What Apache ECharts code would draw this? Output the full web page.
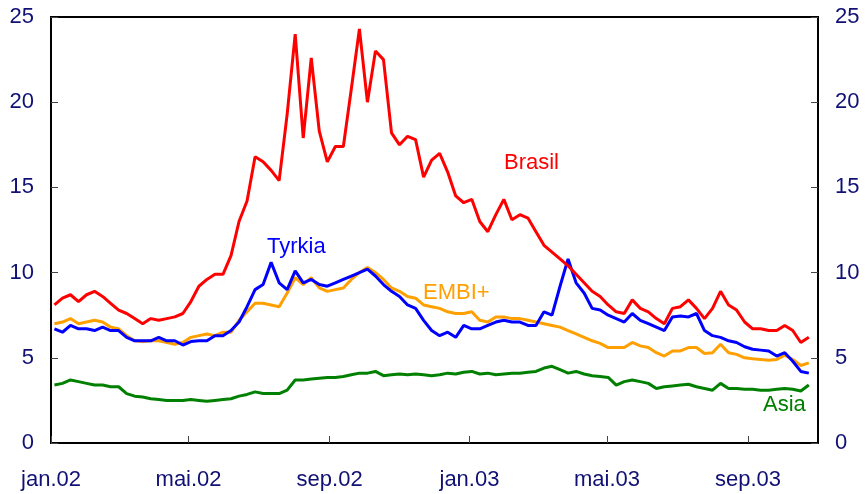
<!DOCTYPE html>
<html>
<head>
<meta charset="utf-8">
<script src="https://cdn.jsdelivr.net/npm/echarts@6/dist/echarts.min.js"></script>
<style>
  html, body { margin: 0; padding: 0; background: #fff; }
  #chart { width: 865px; height: 494px; }
</style>
</head>
<body>
<div id="chart"></div>
<script>
// weekly observations, first one friday 4 jan 2002
const brasil = [
  8.1, 8.5, 8.7, 8.3, 8.7, 8.9, 8.6, 8.2, 7.8, 7.6,
  7.3, 7.0, 7.3, 7.2, 7.3, 7.4, 7.6, 8.3, 9.2, 9.6,
  9.9, 9.9, 11.0, 13.0, 14.2, 16.8, 16.5, 16.0, 15.4, 19.3,
  24.0, 17.9, 22.6, 18.3, 16.5, 17.4, 17.4, 20.8, 24.3, 20.0,
  23.0, 22.5, 18.2, 17.5, 18.0, 17.8, 15.6, 16.6, 17.0, 15.9,
  14.5, 14.1, 14.3, 13.0, 12.4, 13.4, 14.3, 13.1, 13.4, 13.2,
  12.4, 11.6, 11.2, 10.8, 10.4, 9.9, 9.4, 8.9, 8.6, 8.1,
  7.7, 7.6, 8.4, 7.9, 7.7, 7.3, 7.0, 7.9, 8.0, 8.4,
  7.9, 7.3, 7.9, 8.9, 8.1, 7.8, 7.1, 6.7, 6.7, 6.6,
  6.6, 6.9, 6.6, 5.9, 6.2
];
const tyrkia = [
  6.7, 6.5, 6.9, 6.7, 6.7, 6.6, 6.8, 6.6, 6.6, 6.2,
  6.0, 6.0, 6.0, 6.2, 6.0, 6.0, 5.75, 5.95, 6.0, 6.0,
  6.3, 6.3, 6.6, 7.1, 8.0, 9.0, 9.3, 10.6, 9.4, 9.0,
  10.1, 9.4, 9.6, 9.3, 9.2, 9.4, 9.6, 9.8, 10.0, 10.2,
  9.8, 9.3, 8.9, 8.6, 8.1, 7.9, 7.2, 6.6, 6.3, 6.5,
  6.2, 6.9, 6.7, 6.7, 6.9, 7.1, 7.2, 7.1, 7.1, 6.9,
  6.9, 7.7, 7.5, 9.2, 10.8, 9.4, 8.8, 7.9, 7.8, 7.5,
  7.3, 7.1, 7.6, 7.2, 7.0, 6.8, 6.6, 7.4, 7.45, 7.4,
  7.6, 6.6, 6.3, 6.2, 6.0, 5.9, 5.65, 5.5, 5.45, 5.4,
  5.1, 5.3, 4.8, 4.2, 4.1
];
const embi = [
  7.0, 7.1, 7.3, 7.0, 7.1, 7.2, 7.1, 6.8, 6.7, 6.3,
  6.0, 5.95, 6.0, 6.0, 5.9, 5.8, 5.9, 6.2, 6.3, 6.4,
  6.3, 6.5, 6.5, 7.2, 7.7, 8.2, 8.2, 8.1, 8.0, 8.8,
  9.7, 9.3, 9.7, 9.1, 8.9, 9.0, 9.1, 9.6, 10.0, 10.3,
  10.0, 9.6, 9.1, 8.9, 8.6, 8.5, 8.1, 8.0, 7.9, 7.7,
  7.6, 7.6, 7.7, 7.2, 7.1, 7.4, 7.4, 7.3, 7.3, 7.2,
  7.1, 7.0, 6.9, 6.8, 6.6, 6.4, 6.2, 6.0, 5.85, 5.6,
  5.6, 5.6, 5.9, 5.7, 5.6, 5.3, 5.1, 5.4, 5.4, 5.6,
  5.6, 5.25, 5.3, 5.8, 5.3, 5.2, 5.0, 4.95, 4.9, 4.85,
  4.9, 5.15, 4.9, 4.55, 4.7
];
const asia = [
  3.4, 3.5, 3.7, 3.6, 3.5, 3.4, 3.4, 3.3, 3.3, 2.9,
  2.75, 2.7, 2.6, 2.55, 2.5, 2.5, 2.5, 2.55, 2.5, 2.45,
  2.5, 2.55, 2.6, 2.75, 2.85, 3.0, 2.9, 2.9, 2.9, 3.1,
  3.7, 3.7, 3.75, 3.8, 3.85, 3.85, 3.9, 4.0, 4.1, 4.1,
  4.2, 3.95, 4.0, 4.05, 4.0, 4.05, 4.0, 3.95, 4.0, 4.1,
  4.05, 4.15, 4.2, 4.05, 4.1, 4.0, 4.05, 4.1, 4.1, 4.15,
  4.2, 4.4, 4.5, 4.3, 4.1, 4.2, 4.05, 3.95, 3.9, 3.85,
  3.4, 3.6, 3.7, 3.6, 3.5, 3.2, 3.3, 3.35, 3.4, 3.45,
  3.3, 3.2, 3.1, 3.5, 3.2, 3.2, 3.15, 3.15, 3.1, 3.1,
  3.15, 3.2, 3.15, 3.05, 3.4
];
const dates = brasil.map((v, i) => new Date(2002, 0, 4 + 7 * i).getTime());

// x axis ticks every fourth month
const tickMonths = [[2002, 0], [2002, 4], [2002, 8], [2003, 0], [2003, 4], [2003, 8]];
const tickValues = tickMonths.map(m => new Date(m[0], m[1], 1).getTime());
const monthNames = ['jan', 'feb', 'mar', 'apr', 'mai', 'jun', 'jul', 'aug', 'sep', 'okt', 'nov', 'des'];

const textColor = '#101075';
const fontFamily = '"Liberation Sans", Arial, sans-serif';

function pairs(values) {
    return values.map((v, i) => [dates[i], v]);
}

function yAxis(pos) {
    return {
        type: 'value',
        position: pos,
        min: 0,
        max: 25,
        interval: 5,
        axisLine: { show: true, lineStyle: { color: '#000', width: 2 } },
        axisTick: { show: true, inside: true, length: 7, lineStyle: { color: '#444', width: 1 } },
        axisLabel: { color: textColor, fontSize: 22, fontFamily: fontFamily, margin: 17 },
        splitLine: { show: false }
    };
}

function lineSeries(name, values, color, yIndex) {
    return {
        name: name,
        type: 'line',
        yAxisIndex: yIndex,
        data: pairs(values),
        showSymbol: false,
        smooth: false,
        lineStyle: { color: color, width: 3 },
        itemStyle: { color: color },
        animation: false
    };
}

function label(text, color, x, y) {
    return {
        type: 'text',
        left: x,
        top: y,
        style: { text: text, fill: color, fontSize: 22, fontFamily: fontFamily }
    };
}

let chart = echarts.init(document.getElementById('chart'), null, { renderer: 'canvas' });

chart.setOption({
    animation: false,
    backgroundColor: '#fff',
    grid: {
        left: 51, right: 47, top: 17, bottom: 51,
        show: true, borderColor: '#000', borderWidth: 2
    },
    xAxis: {
        type: 'value',
        min: new Date(2002, 0, 1).getTime(),
        max: new Date(2003, 10, 1).getTime(),
        axisLine: { show: true, lineStyle: { color: '#000', width: 2 } },
        axisTick: { show: true, inside: true, length: 7, customValues: tickValues, lineStyle: { color: '#444', width: 1 } },
        axisLabel: {
            customValues: tickValues,
            color: textColor,
            fontSize: 22,
            fontFamily: fontFamily,
            margin: 26,
            formatter: function (val) {
                let d = new Date(val);
                return monthNames[d.getMonth()] + '.' + String(d.getFullYear()).slice(2);
            }
        },
        splitLine: { show: false }
    },
    yAxis: [yAxis('left'), yAxis('right')],
    series: [
        lineSeries('Asia', asia, '#008000', 0),
        lineSeries('EMBI+', embi, '#ffa000', 0),
        lineSeries('Tyrkia', tyrkia, '#0000ff', 0),
        lineSeries('Brasil', brasil, '#ff0000', 0)
    ],
    graphic: [
        label('Brasil', '#ff0000', 504, 152),
        label('Tyrkia', '#0000ff', 267, 236),
        label('EMBI+', '#ffa000', 423, 282),
        label('Asia', '#008000', 763, 394)
    ]
});
</script>
</body>
</html>
